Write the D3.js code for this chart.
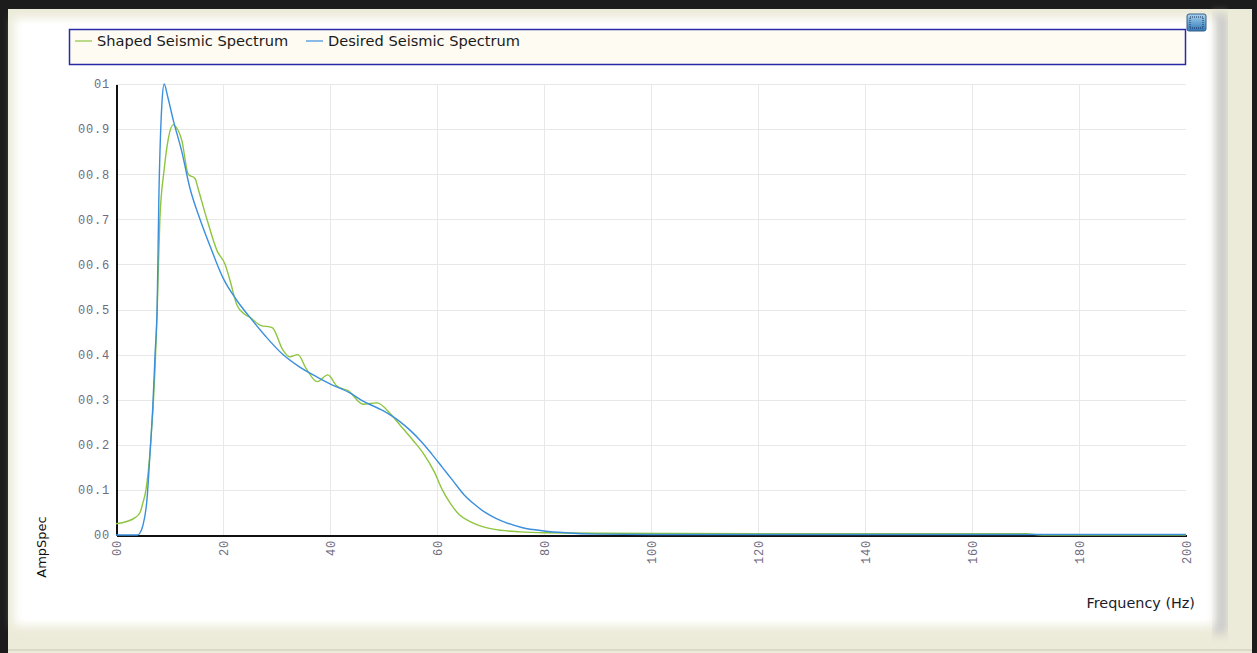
<!DOCTYPE html>
<html lang='en'>
  <head>
    <meta charset='utf-8'>
    <title>Seismic Spectrum</title>
    <script type='text/javascript' src='https://cdn.jsdelivr.net/npm/d3@7/dist/d3.min.js'></script>
    <style type='text/css'>
    body{
      margin: 0;
      background: #1c1c1c;
    }
    .axis path{
      fill: none;
      stroke: #111;
      stroke-width: 2px;
      shape-rendering: crispEdges;
    }
    .axis line{
      display: none;
    }
    .axis text{
      font-family: 'Liberation Mono', monospace;
      font-size: 12px;
      letter-spacing: 0.8px;
      fill: #6f6b82;
    }
    .grid line{
      stroke: #e8e8e8;
      stroke-width: 1px;
      shape-rendering: crispEdges;
    }
    </style>
  </head>
  <body>
    <script type='text/javascript'>

    // values
    var shapedFreq = [0, 2, 3.5, 4.5, 5, 5.6, 6.4, 7.3, 7.7, 8.2, 9, 9.8, 10.7, 11.2, 12.3, 13.5, 14.8, 15.3, 17, 18.9, 20.4, 21.3, 22.6, 24, 25, 27, 29.2, 31.2, 32.5, 34, 35.5, 37.6, 39.6, 41.3, 43.4, 46.2, 48.8, 51.2, 53, 55.5, 57.5, 59.5, 61, 62.5, 64, 66.7, 70.5, 75.5, 80, 90, 120, 170, 173, 200];
    var shapedAmp = [0.025, 0.03, 0.038, 0.05, 0.07, 0.1, 0.19, 0.37, 0.5, 0.7, 0.81, 0.88, 0.91, 0.905, 0.875, 0.8, 0.79, 0.77, 0.7, 0.63, 0.6, 0.565, 0.51, 0.49, 0.483, 0.465, 0.46, 0.41, 0.395, 0.4, 0.37, 0.34, 0.355, 0.33, 0.32, 0.29, 0.293, 0.27, 0.245, 0.21, 0.18, 0.14, 0.1, 0.07, 0.047, 0.027, 0.013, 0.007, 0.005, 0.004, 0.003, 0.003, 0, 0];

    var desiredFreq = [0, 2, 4, 4.5, 5, 5.8, 6.3, 6.9, 7.3, 7.7, 8, 8.6, 9, 9.7, 10.7, 12.3, 13.8, 15.7, 17.6, 20, 22.6, 25, 28, 31.2, 34, 37.6, 40, 43.7, 46, 50, 53, 55, 57, 59, 61, 63, 65, 67, 69, 71, 73, 76, 80, 84, 90, 100, 120, 150, 200];
    var desiredAmp = [0, 0, 0, 0.005, 0.02, 0.08, 0.17, 0.29, 0.4, 0.51, 0.74, 0.96, 1.0, 0.97, 0.92, 0.85, 0.77, 0.7, 0.64, 0.57, 0.52, 0.483, 0.44, 0.4, 0.375, 0.35, 0.335, 0.315, 0.298, 0.275, 0.252, 0.232, 0.208, 0.18, 0.15, 0.12, 0.09, 0.068, 0.05, 0.037, 0.027, 0.016, 0.009, 0.005, 0.002, 0.001, 0.001, 0.001, 0.001];

    var seriesNames = ['Shaped Seismic Spectrum', 'Desired Seismic Spectrum'];
    var seriesColors = ['#8dc53e', '#3b8fdc'];

    var yTickValues = [0, 0.1, 0.2, 0.3, 0.4, 0.5, 0.6, 0.7, 0.8, 0.9, 1];
    var yTickLabels = ['00', '00.1', '00.2', '00.3', '00.4', '00.5', '00.6', '00.7', '00.8', '00.9', '01'];
    var xTickValues = [0, 20, 40, 60, 80, 100, 120, 140, 160, 180, 200];
    var xTickLabels = ['00', '20', '40', '60', '80', '100', '120', '140', '160', '180', '200'];

    var w = 1257;
    var h = 653;
    var plotLeft = 116, plotRight = 1186, plotTop = 84, plotBottom = 535;

    var svg = d3.select('body')
                .append('svg')
                .attr('width', w)
                .attr('height', h)
                .style('display', 'block');

    var defs = svg.append('defs');
    defs.append('filter')
        .attr('id', 'soft')
        .attr('x', '-5%').attr('y', '-5%')
        .attr('width', '110%').attr('height', '110%')
        .append('feGaussianBlur')
        .attr('stdDeviation', 5);

    var btn = defs.append('linearGradient')
                  .attr('id', 'btn')
                  .attr('x1', 0).attr('y1', 0)
                  .attr('x2', 0).attr('y2', 1);
    btn.append('stop').attr('offset', '0%').attr('stop-color', '#a9d4f0');
    btn.append('stop').attr('offset', '100%').attr('stop-color', '#2f78b8');

    // window frame
    svg.append('rect')
       .attr('x', 8).attr('y', 9)
       .attr('width', 1244).attr('height', 644)
       .attr('fill', '#ecead8');

    svg.append('rect')
       .attr('x', 1213).attr('y', 14)
       .attr('width', 14).attr('height', 620)
       .attr('fill', '#c9c9c9')
       .attr('filter', 'url(#soft)');

    svg.append('rect')
       .attr('x', 14).attr('y', 18)
       .attr('width', 1200).attr('height', 608)
       .attr('fill', '#ffffff')
       .attr('filter', 'url(#soft)');

    svg.append('rect')
       .attr('x', 22).attr('y', 24)
       .attr('width', 1185).attr('height', 596)
       .attr('fill', '#ffffff');

    svg.append('line')
       .attr('x1', 8).attr('x2', 1252)
       .attr('y1', 650).attr('y2', 650)
       .attr('stroke', '#c8c6b8');

    // little button top right
    svg.append('rect')
       .attr('x', 1187).attr('y', 14)
       .attr('width', 19).attr('height', 17)
       .attr('rx', 2)
       .attr('fill', 'url(#btn)')
       .attr('stroke', '#3a5f8a');
    svg.append('rect')
       .attr('x', 1190).attr('y', 17)
       .attr('width', 13).attr('height', 11)
       .attr('fill', 'none')
       .attr('stroke', '#1d2f55')
       .attr('stroke-dasharray', '1,1');

    // legend
    svg.append('rect')
       .attr('x', 69.5).attr('y', 29.5)
       .attr('width', 1116).attr('height', 35)
       .attr('fill', '#fdfbf2')
       .attr('stroke', '#2a2aa6')
       .attr('stroke-width', 1.5);

    var legendX = [75, 306];
    var legend = svg.selectAll('.legend')
                    .data(seriesNames)
                    .enter()
                    .append('g')
                    .attr('class', 'legend')
                    .attr('transform', function(d, i){
                      return 'translate(' + legendX[i] + ',41)';
                    });
    legend.append('line')
          .attr('x1', 0).attr('x2', 17)
          .attr('stroke', function(d, i){ return seriesColors[i]; })
          .attr('stroke-width', 1.2);
    legend.append('text')
          .attr('x', 22)
          .attr('y', 5)
          .attr('font-family', 'DejaVu Sans, sans-serif')
          .attr('font-size', '14.6px')
          .attr('fill', '#1a1a1a')
          .text(function(d){ return d; });

    var xScale = d3.scaleLinear()
                   .domain([0, 200])
                   .range([plotLeft, plotRight]);

    var yScale = d3.scaleLinear()
                   .domain([0, 1])
                   .range([plotBottom, plotTop]);

    // grid
    svg.append('g')
       .attr('class', 'grid')
       .selectAll('line')
       .data(yTickValues.slice(1))
       .enter()
       .append('line')
       .attr('x1', plotLeft).attr('x2', plotRight)
       .attr('y1', function(d){ return Math.round(yScale(d)) + 0.5; })
       .attr('y2', function(d){ return Math.round(yScale(d)) + 0.5; });

    svg.append('g')
       .attr('class', 'grid')
       .selectAll('line')
       .data(xTickValues.slice(1, -1))
       .enter()
       .append('line')
       .attr('y1', plotTop).attr('y2', plotBottom)
       .attr('x1', function(d){ return Math.round(xScale(d)) + 0.5; })
       .attr('x2', function(d){ return Math.round(xScale(d)) + 0.5; });

    var xAxis = d3.axisBottom(xScale)
                  .tickValues(xTickValues)
                  .tickSizeOuter(0)
                  .tickFormat(function(d, i){ return xTickLabels[i]; });

    var yAxis = d3.axisLeft(yScale)
                  .tickValues(yTickValues)
                  .tickSizeOuter(0)
                  .tickFormat(function(d, i){ return yTickLabels[i]; });

    svg.append('g')
       .attr('class', 'x axis')
       .attr('transform', 'translate(0,' + plotBottom + ')')
       .call(xAxis)
       .selectAll('text')
       .attr('transform', 'rotate(-90)')
       .attr('x', -5)
       .attr('y', 0)
       .attr('dy', '0.35em')
       .style('text-anchor', 'end');

    svg.append('g')
       .attr('class', 'y axis')
       .attr('transform', 'translate(' + plotLeft + ',0)')
       .call(yAxis)
       .selectAll('text')
       .attr('x', -6);

    // series
    var line = d3.line()
                 .x(function(d){ return xScale(d[0]); })
                 .y(function(d){ return yScale(d[1]); })
                 .curve(d3.curveMonotoneX);

    var shaped = d3.zip(shapedFreq, shapedAmp);
    var desired = d3.zip(desiredFreq, desiredAmp);

    svg.selectAll('.series')
       .data([shaped, desired])
       .enter()
       .append('path')
       .attr('class', 'series')
       .attr('d', line)
       .attr('fill', 'none')
       .attr('stroke', function(d, i){ return seriesColors[i]; })
       .attr('stroke-width', 1.4);

    // axis titles
    svg.append('text')
       .attr('transform', 'translate(46,547) rotate(-90)')
       .attr('text-anchor', 'middle')
       .attr('font-family', 'DejaVu Sans, sans-serif')
       .attr('font-size', '13px')
       .attr('fill', '#111')
       .text('AmpSpec');

    svg.append('text')
       .attr('x', 1195)
       .attr('y', 608)
       .attr('text-anchor', 'end')
       .attr('font-family', 'DejaVu Sans, sans-serif')
       .attr('font-size', '14.4px')
       .attr('fill', '#1a1a2a')
       .text('Frequency (Hz)');

    </script>
  </body>
</html>
